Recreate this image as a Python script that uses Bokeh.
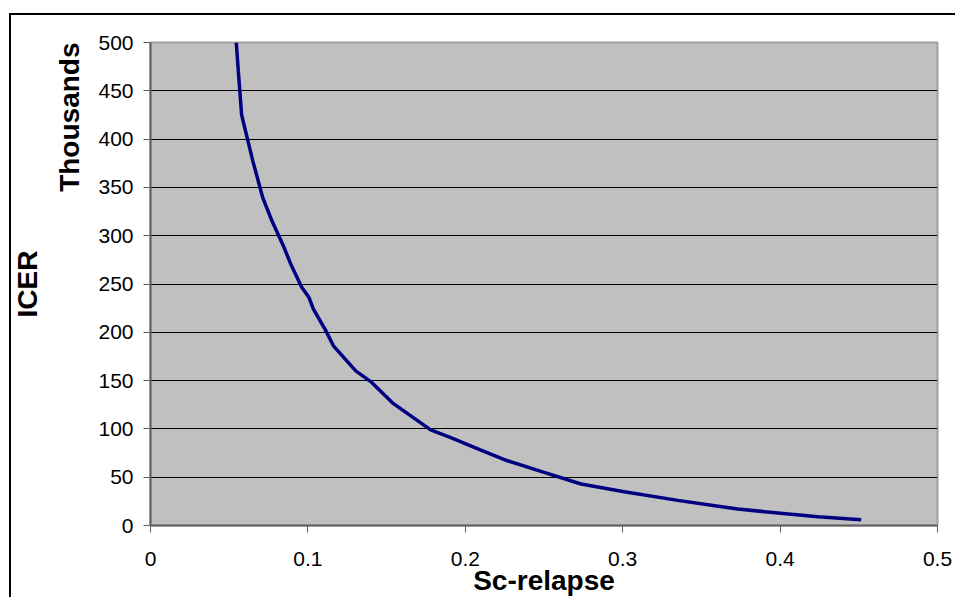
from bokeh.plotting import figure
from bokeh.models import Range1d, FixedTicker, NumeralTickFormatter, Title
from bokeh.embed import file_html
from bokeh.resources import INLINE

# Data (ICER in thousands vs Sc-relapse)
sc_relapse = [0.0545, 0.0558, 0.0579, 0.0649, 0.0712, 0.0770, 0.0848, 0.0890,
              0.0960, 0.1007, 0.1035, 0.1113, 0.1162, 0.1304, 0.1399, 0.1537,
              0.1780, 0.1908, 0.2099, 0.2268, 0.2501, 0.2735, 0.3010, 0.3350,
              0.3730, 0.4240, 0.4515]
icer_thousands = [500, 470, 425, 378, 340, 316, 288, 271,
                  247, 236, 224, 202, 186, 160, 149, 127,
                  99, 91, 78, 67, 55, 43, 35, 26,
                  17, 9, 6]
x_ticks = [0, 0.1, 0.2, 0.3, 0.4, 0.5]
y_ticks = [0, 50, 100, 150, 200, 250, 300, 350, 400, 450, 500]

FONT = "Liberation Sans"

p = figure(width=946, height=584, output_backend="svg", toolbar_location=None,
           x_range=Range1d(0, 0.5), y_range=Range1d(0, 500),
           min_border_left=139, min_border_right=20,
           min_border_top=27, min_border_bottom=74,
           background_fill_color="#C0C0C0", border_fill_color="white",
           outline_line_color="#A0A0A0", outline_line_width=2,
           styles={"border-left": "2px solid black", "border-top": "2px solid black",
                   "margin-left": "9px", "margin-top": "13px"})

p.line(sc_relapse, icer_thousands, line_color="#000080", line_width=3.5)

# grid
p.xgrid.visible = False
p.ygrid.ticker = FixedTicker(ticks=y_ticks[1:-1])
p.ygrid.grid_line_color = "black"
p.ygrid.grid_line_width = 1

# x axis
xa = p.xaxis[0]
xa.ticker = FixedTicker(ticks=x_ticks)
xa.formatter = NumeralTickFormatter(format="0.[0]")
xa.axis_label = "Sc-relapse"
xa.axis_label_text_font = FONT
xa.axis_label_text_font_style = "bold"
xa.axis_label_text_font_size = "28px"
xa.axis_label_text_color = "black"
xa.axis_label_standoff = -4
xa.major_label_text_font = FONT
xa.major_label_text_font_size = "21px"
xa.major_label_text_color = "black"
xa.major_label_standoff = 19
xa.major_tick_out = 7
xa.major_tick_in = 0
xa.minor_tick_line_color = None
xa.axis_line_color = "#606060"
xa.axis_line_width = 2
xa.major_tick_line_color = "#606060"

# y axis
ya = p.yaxis[0]
ya.ticker = FixedTicker(ticks=y_ticks)
ya.major_label_text_font = FONT
ya.major_label_text_font_size = "21px"
ya.major_label_text_color = "black"
ya.major_label_standoff = 10
ya.major_tick_out = 7
ya.major_tick_in = 0
ya.minor_tick_line_color = None
ya.axis_line_color = "#606060"
ya.axis_line_width = 2
ya.major_tick_line_color = "#606060"

# display-unit label and axis title
t_units = Title(text="Thousands", align="right", standoff=22,
                text_font=FONT, text_font_style="bold", text_font_size="28px",
                text_color="black")
p.add_layout(t_units, "left")
t_icer = Title(text="ICER", align="center", standoff=-5,
               text_font=FONT, text_font_style="bold", text_font_size="28px",
               text_color="black")
p.add_layout(t_icer, "left")

open("out.html", "w").write(file_html(p, INLINE))
